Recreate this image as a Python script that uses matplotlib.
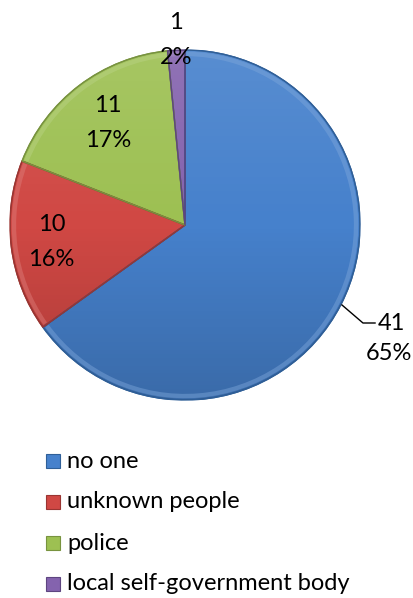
import matplotlib
matplotlib.use("Agg")
import matplotlib.pyplot as plt
from matplotlib.patches import Wedge, Rectangle, Circle
import numpy as np

categories = ["no one", "unknown people", "police", "local self-government body"]
counts = [41, 10, 11, 1]
colors = ["#4681CC", "#D04844", "#9DC052", "#8463AE"]
edge_colors = ["#2F5F98", "#9A3532", "#78933F", "#5E4580"]

plt.rcParams["font.family"] = ["Lato", "DejaVu Sans"]

W, H = 414, 598
fig = plt.figure(figsize=(W / 100, H / 100), dpi=100)

cx, cy, r = 185, 225, 175
ax = fig.add_axes([(cx - r) / W, (H - cy - r) / H, 2 * r / W, 2 * r / H])

wedges, _ = ax.pie(counts, colors=colors, startangle=90, counterclock=False,
                   radius=1.0, center=(0, 0),
                   wedgeprops=dict(linewidth=1.0, edgecolor="none"))
ax.set_xlim(-1, 1)
ax.set_ylim(-1, 1)
ax.set_aspect("equal")
ax.axis("off")
for w, ec in zip(wedges, edge_colors):
    w.set_edgecolor(ec)
    w.set_linewidth(1.0)

# vertical shading: lighter at the top, darker at the bottom
shade = np.zeros((256, 4, 4))
t = np.linspace(0, 1, 256)
shade[:, :, :3] = np.where(t[:, None, None] < 0.5, 1.0, 0.0)
shade[:, :, 3] = np.abs(t - 0.5)[:, None] * np.where(t < 0.5, 0.2, 0.35)[:, None]
clip = Circle((0, 0), 1.0, transform=ax.transData)
im = ax.imshow(shade, extent=(-1, 1, -1, 1), origin="upper", zorder=3,
               interpolation="bilinear")
im.set_clip_path(clip)

# soft bevel highlight along each wedge
for w, c in zip(wedges, colors):
    rgb = np.array(matplotlib.colors.to_rgb(c))
    light = tuple(np.clip(rgb + (1 - rgb) * 0.3, 0, 1))
    hw = Wedge((0, 0), 0.99, w.theta1 + 0.5, w.theta2 - 0.5, width=0.025,
               facecolor=light, edgecolor="none", alpha=0.45, zorder=4)
    ax.add_patch(hw)
for w, ec in zip(wedges, edge_colors):
    ow = Wedge((0, 0), 1.0, w.theta1, w.theta2, facecolor="none",
               edgecolor=ec, lw=1.0, zorder=5)
    ax.add_patch(ow)

total = sum(counts)
label_r = [None, 0.77, 0.73, 1.06]
fs = 17
for i, (w, v) in enumerate(zip(wedges, counts)):
    pct = f"{round(100 * v / total)}%"
    mid = np.deg2rad((w.theta1 + w.theta2) / 2)
    if i == 0:
        # outside label with leader line
        ax.plot([0.897, 1.017, 1.086], [-0.457, -0.56, -0.56],
                color="black", lw=1.0, clip_on=False, zorder=6)
        ax.text(1.103, -0.56, f"{v}", ha="left", va="center", fontsize=fs,
                zorder=6)
        ax.text(1.035, -0.735, pct, ha="left", va="center", fontsize=fs,
                zorder=6)
    else:
        rr = label_r[i]
        ax.text(rr * np.cos(mid), rr * np.sin(mid), f"{v}\n{pct}",
                ha="center", va="center", fontsize=fs, linespacing=1.8,
                zorder=6)

# legend drawn in pixel positions
row_y = [461, 502, 543, 584]
for lab, c, ec, y in zip(categories, colors, edge_colors, row_y):
    fig.add_artist(Rectangle((46 / W, 1 - (y + 7) / H), 14 / W, 14 / H,
                             transform=fig.transFigure, facecolor=c,
                             edgecolor=ec, lw=0.8))
    fig.text(67 / W, 1 - y / H, lab, ha="left", va="center", fontsize=fs)

fig.savefig("out.png", dpi=100, facecolor="white")
